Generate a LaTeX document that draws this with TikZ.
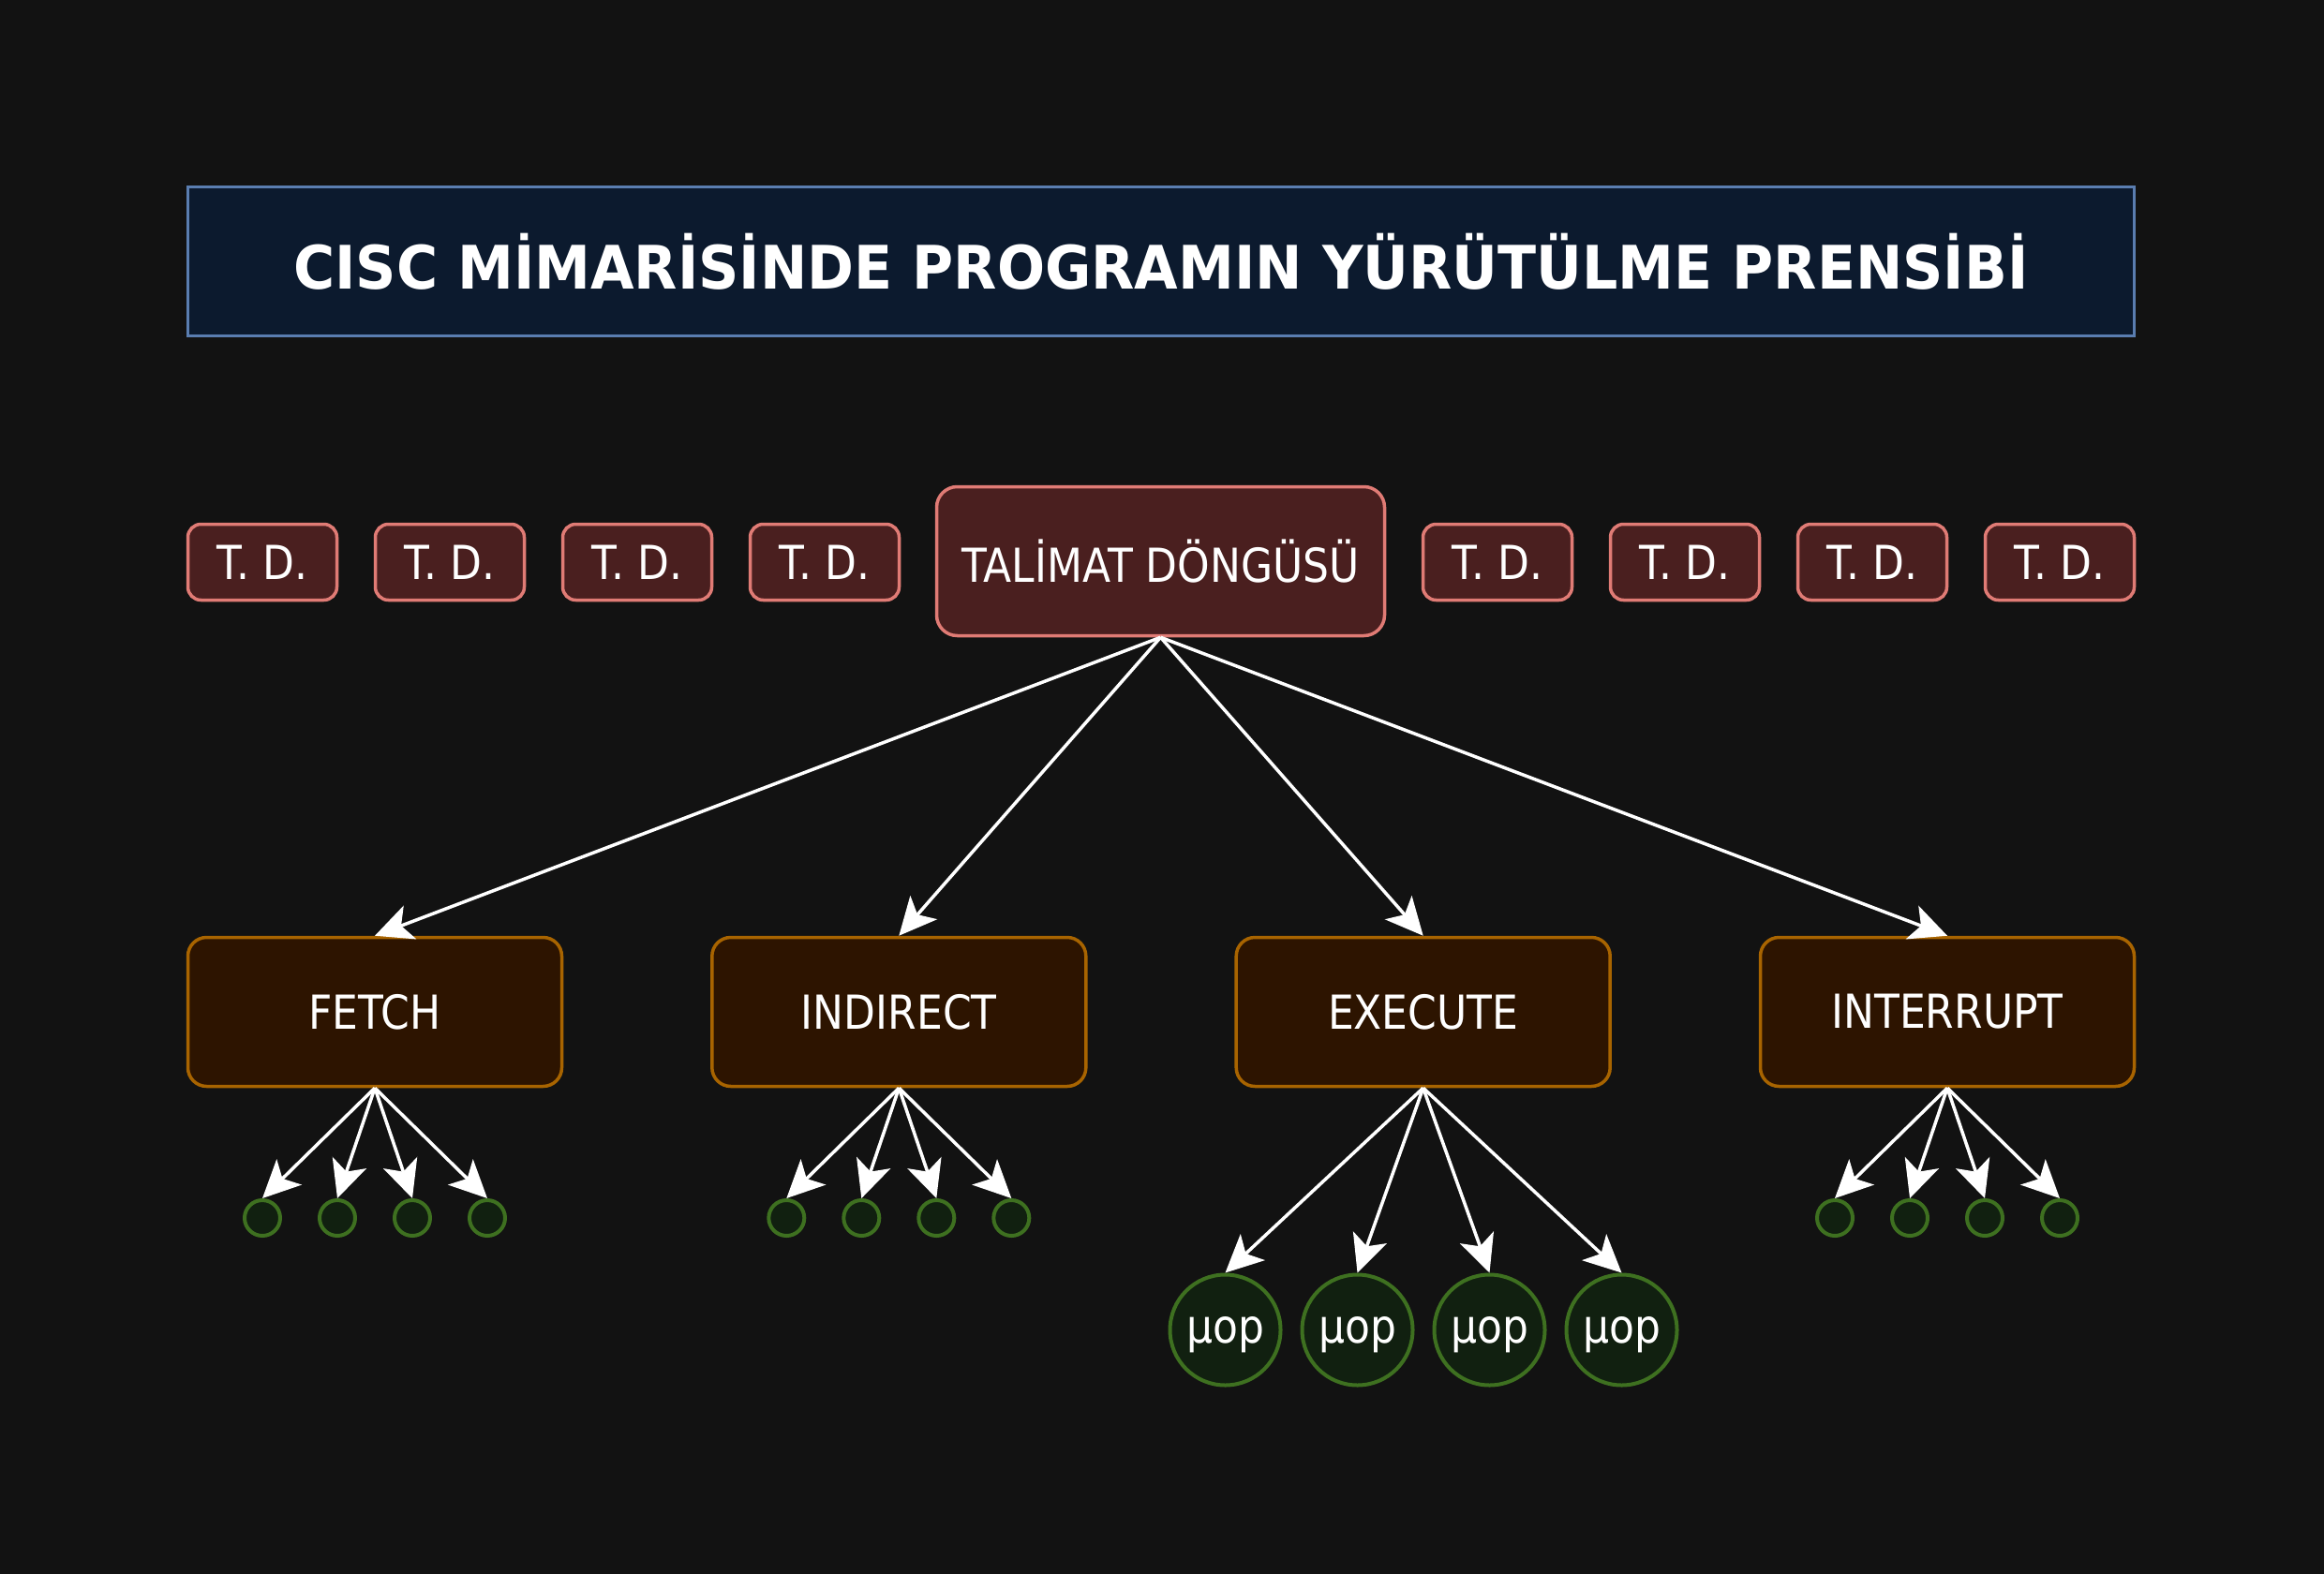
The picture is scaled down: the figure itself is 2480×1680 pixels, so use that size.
\documentclass[tikz,border=0pt]{standalone}
\usepackage{fontspec}
\setmainfont{DejaVu Sans}[FakeStretch=0.88]
\newfontfamily\titlefont{DejaVu Sans}[FakeStretch=0.94]
\usetikzlibrary{arrows.meta}
\definecolor{bg}{HTML}{121212}
\definecolor{titlefill}{HTML}{0C1A2E}
\definecolor{titledraw}{HTML}{5A7DB0}
\definecolor{tdfill}{HTML}{4A1F1F}
\definecolor{tddraw}{HTML}{E07B75}
\definecolor{phfill}{HTML}{2D1400}
\definecolor{phdraw}{HTML}{A86400}
\definecolor{opfill}{HTML}{112010}
\definecolor{opdraw}{HTML}{3E7020}
\begin{document}
\begin{tikzpicture}[x=1pt,y=-1pt,
  titlebox/.style={draw=titledraw,fill=titlefill,line width=3pt,minimum width=2077pt,minimum height=159pt,inner sep=0pt,text=white,font=\titlefont\bfseries\fontsize{64}{70}\selectfont},
  tdbox/.style={draw=tddraw,fill=tdfill,line width=3.5pt,rounded corners=14pt,minimum width=159pt,minimum height=81pt,inner sep=0pt,text=white,font=\fontsize{50}{58}\selectfont},
  cyclebox/.style={draw=tddraw,fill=tdfill,line width=3.5pt,rounded corners=22pt,minimum width=478pt,minimum height=159pt,inner sep=0pt,text=white,font=\fontsize{50}{58}\selectfont},
  phasebox/.style={draw=phdraw,fill=phfill,line width=3.5pt,rounded corners=20pt,minimum width=399pt,minimum height=159pt,inner sep=0pt,text=white,font=\fontsize{50}{58}\selectfont},
  dot/.style={circle,draw=opdraw,fill=opfill,line width=4pt,minimum size=38pt,inner sep=0pt},
  uop/.style={circle,draw=opdraw,fill=opfill,line width=4pt,minimum size=118pt,inner sep=0pt,text depth=0pt,text=white,font=\fontsize{50}{58}\selectfont},
  arr/.style={draw=white,line width=3.5pt,-{Stealth[length=40pt,width=38pt,inset=10pt]}}
]
\fill[bg] (0,0) rectangle (2480,1680);
\useasboundingbox (0,0) rectangle (2480,1680);

\node[titlebox] (title) at (1239,279) {CISC MİMARİSİNDE PROGRAMIN YÜRÜTÜLME PRENSİBİ};

\node[tdbox] (td1) at (280,600) {T. D.};
\node[tdbox] (td2) at (480,600) {T. D.};
\node[tdbox] (td3) at (680,600) {T. D.};
\node[tdbox] (td4) at (880,600) {T. D.};
\node[cyclebox] (cycle) at (1238.5,599) {TALİMAT DÖNGÜSÜ};
\node[tdbox] (td5) at (1598,600) {T. D.};
\node[tdbox] (td6) at (1798,600) {T. D.};
\node[tdbox] (td7) at (1998,600) {T. D.};
\node[tdbox] (td8) at (2198,600) {T. D.};

\node[phasebox] (fetch) at (400,1080) {FETCH};
\node[phasebox] (indirect) at (959.3,1080) {INDIRECT};
\node[phasebox] (execute) at (1518.7,1080) {EXECUTE};
\node[phasebox] (interrupt) at (2078,1080) {INTERRUPT};

\foreach \p in {fetch,indirect,execute,interrupt}
  \draw[arr] (cycle.south) -- (\p.north);

\foreach \p/\cx in {fetch/400,indirect/959.3,interrupt/2078}{
  \foreach \i/\dx in {1/-120,2/-40,3/40,4/120}{
    \node[dot] (\p-d\i) at (\cx+\dx,1300) {};
    \draw[arr] (\p.south) -- (\p-d\i.north);
  }
}

\foreach \i/\x in {1/1307.5,2/1448.5,3/1589.5,4/1730.5}{
  \node[uop] (op\i) at (\x,1419.5) {µop};
  \draw[arr] (execute.south) -- (op\i.north);
}
\end{tikzpicture}
\end{document}
